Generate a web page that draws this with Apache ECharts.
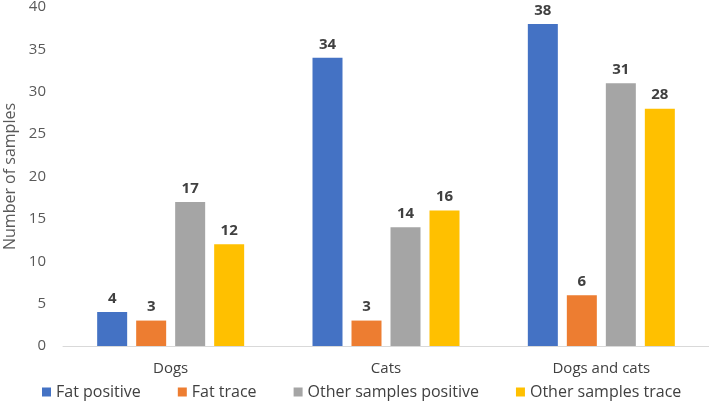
<!DOCTYPE html>
<html>
<head>
<meta charset="utf-8">
<script src="https://cdn.jsdelivr.net/npm/echarts@6/dist/echarts.min.js"></script>
<style>
    html, body { margin: 0; padding: 0; background: #fff; }
    #chart { width: 709px; height: 410px; }
</style>
</head>
<body>
<div id="chart"></div>
<script>
    var categories = ['Dogs', 'Cats', 'Dogs and cats'];
    var seriesNames = ['Fat positive', 'Fat trace', 'Other samples positive', 'Other samples trace'];
    var fatPositive = [4, 34, 38];
    var fatTrace = [3, 3, 6];
    var otherPositive = [17, 14, 31];
    var otherTrace = [12, 16, 28];
    var yTicks = [0, 5, 10, 15, 20, 25, 30, 35, 40];

    var colors = ['#4472C4', '#ED7D31', '#A5A5A5', '#FFC000'];
    var font = '"Open Sans", "Noto Sans", sans-serif';

    var chart = echarts.init(document.getElementById('chart'));

    function makeSeries(name, data) {
        return {
            name: name,
            type: 'bar',
            data: data,
            barWidth: 30,
            barGap: '30%',
            label: {
                show: true,
                position: 'top',
                distance: 6,
                color: '#404040',
                fontWeight: 'bold',
                fontSize: 15,
                fontFamily: font
            }
        };
    }

    chart.setOption({
        color: colors,
        animation: false,
        textStyle: { fontFamily: font },
        grid: {
            left: 63,
            right: 0,
            top: 7,
            bottom: 64,
            outerBoundsMode: 'none'
        },
        legend: {
            bottom: 5,
            left: 37,
            itemWidth: 9,
            itemHeight: 9,
            itemGap: 37,
            icon: 'rect',
            textStyle: {
                color: '#404040',
                fontSize: 16,
                fontFamily: font
            },
            data: seriesNames
        },
        xAxis: {
            type: 'category',
            data: categories,
            axisLine: { lineStyle: { color: '#D9D9D9' } },
            axisTick: { show: false },
            axisLabel: {
                color: '#404040',
                fontSize: 15,
                margin: 15,
                fontFamily: font
            }
        },
        yAxis: {
            type: 'value',
            min: yTicks[0],
            max: yTicks[yTicks.length - 1],
            interval: 5,
            name: 'Number of samples',
            nameLocation: 'middle',
            nameGap: 41,
            nameTextStyle: {
                color: '#595959',
                fontSize: 16,
                fontFamily: font
            },
            axisLine: { show: false },
            axisTick: { show: false },
            splitLine: { show: false },
            axisLabel: {
                color: '#595959',
                fontSize: 15,
                margin: 17,
                fontFamily: font
            }
        },
        series: [
            makeSeries(seriesNames[0], fatPositive),
            makeSeries(seriesNames[1], fatTrace),
            makeSeries(seriesNames[2], otherPositive),
            makeSeries(seriesNames[3], otherTrace)
        ]
    });
</script>
</body>
</html>
